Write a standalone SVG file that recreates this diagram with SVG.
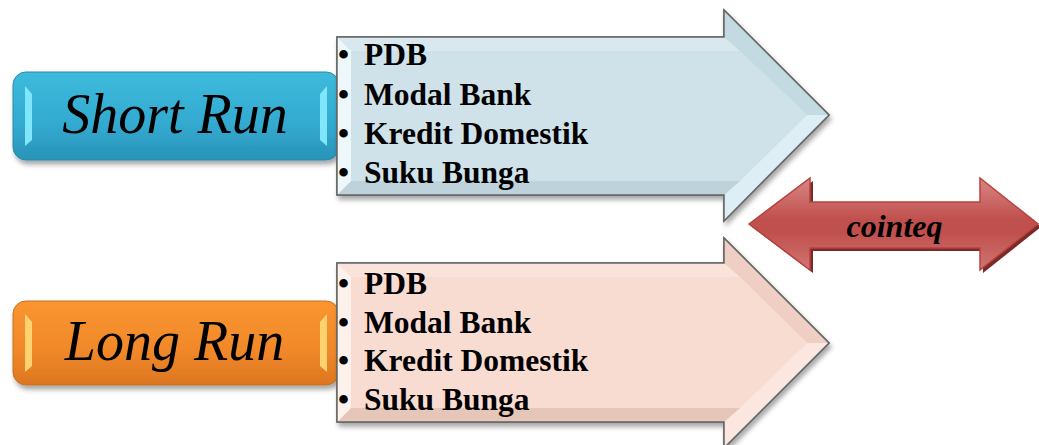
<svg xmlns="http://www.w3.org/2000/svg" width="1039" height="445" viewBox="0 0 1039 445">
<defs>
<style>
.lbl{font-family:"Liberation Serif","Times New Roman",serif;font-style:italic;font-size:56px;fill:#000}
.li{font-family:"Liberation Serif","Times New Roman",serif;font-weight:bold;font-size:31.5px;fill:#000}
.ci{font-family:"Liberation Serif","Times New Roman",serif;font-weight:bold;font-style:italic;font-size:32px;fill:#000}
.outline{stroke:#666;stroke-width:1.5}
</style>
<filter id="sh" x="-10%" y="-10%" width="130%" height="140%">
<feDropShadow dx="2" dy="4" stdDeviation="2.5" flood-color="#000" flood-opacity="0.35"/>
</filter>
<linearGradient id="gBlue" x1="0" y1="0" x2="0" y2="1">
<stop offset="0" stop-color="#3DBADC"/><stop offset="0.6" stop-color="#33AAD0"/><stop offset="1" stop-color="#2A93B8"/>
</linearGradient>
<linearGradient id="gOrange" x1="0" y1="0" x2="0" y2="1">
<stop offset="0" stop-color="#FA9530"/><stop offset="0.6" stop-color="#F0882A"/><stop offset="1" stop-color="#DC7620"/>
</linearGradient>
<linearGradient id="gRed" x1="0" y1="0" x2="0" y2="1">
<stop offset="0" stop-color="#D88683"/><stop offset="0.45" stop-color="#C0504D"/><stop offset="0.6" stop-color="#C0504D"/><stop offset="1" stop-color="#D07672"/>
</linearGradient>
</defs>

<g id="short-run" filter="url(#sh)">
<rect x="13" y="72" width="326" height="88" rx="13" fill="url(#gBlue)" stroke="#2A8AAA" stroke-width="1"/>
<rect x="25" y="146" width="302" height="4" fill="#2C9ABF" opacity="0.6"/>
<polygon points="25,86 32,94 32,140 25,146" fill="#7FE6FB"/>
<polygon points="327,86 320,94 320,140 327,146" fill="#7FE6FB"/>
<text class="lbl" x="175" y="133" text-anchor="middle">Short Run</text>
</g>

<g id="long-run" filter="url(#sh)">
<rect x="13" y="301" width="326" height="84" rx="13" fill="url(#gOrange)" stroke="#C8701E" stroke-width="1"/>
<rect x="25" y="371" width="302" height="4" fill="#E27E22" opacity="0.6"/>
<polygon points="25,314 32,322 32,366 25,372" fill="#FFD270"/>
<polygon points="327,314 320,322 320,366 327,372" fill="#FFD270"/>
<text class="lbl" x="174.5" y="360" text-anchor="middle">Long Run</text>
</g>

<g id="short-list">
<polygon class="outline" filter="url(#sh)" points="337,37 724,37 724,10 829,115 724,221 724,195 337,195" fill="#D0E2E9"/>
<polygon points="337,37 724,37 740,51 351,51" fill="#D8E8EE"/>
<polygon points="724,37 724,10 829,115 807,115 740,51" fill="#C4DAE2"/>
<polygon points="829,115 724,221 724,195 740,181 807,115" fill="#DDEEF4"/>
<polygon points="337,195 351,181 740,181 724,195" fill="#BDD2DA"/>
<polygon points="337,37 351,51 351,181 337,195" fill="#EEF7FA"/>
<polygon points="351,51 740,51 807,115 740,181 351,181" fill="#D0E2E9"/>
<polygon class="outline" points="337,37 724,37 724,10 829,115 724,221 724,195 337,195" fill="none"/>
<text class="li" x="338" y="65">•</text><text class="li" x="364" y="65">PDB</text>
<text class="li" x="338" y="105">•</text><text class="li" x="364" y="105">Modal Bank</text>
<text class="li" x="338" y="144">•</text><text class="li" x="364" y="144">Kredit Domestik</text>
<text class="li" x="338" y="183">•</text><text class="li" x="364" y="183">Suku Bunga</text>
</g>

<g id="long-list">
<polygon class="outline" filter="url(#sh)" points="337,263 724,263 724,238 829,343 724,448 724,422 337,422" fill="#F9DCD1"/>
<polygon points="337,263 724,263 740,277 351,277" fill="#FAE3DA"/>
<polygon points="724,263 724,238 829,343 807,343 740,277" fill="#EFCFC3"/>
<polygon points="829,343 724,448 724,422 740,408 807,343" fill="#FBE7DF"/>
<polygon points="337,422 351,408 740,408 724,422" fill="#E6C6B9"/>
<polygon points="337,263 351,277 351,408 337,422" fill="#FDF1EC"/>
<polygon points="351,277 740,277 807,343 740,408 351,408" fill="#F9DCD1"/>
<polygon class="outline" points="337,263 724,263 724,238 829,343 724,448 724,422 337,422" fill="none"/>
<text class="li" x="338" y="294">•</text><text class="li" x="364" y="294">PDB</text>
<text class="li" x="338" y="333">•</text><text class="li" x="364" y="333">Modal Bank</text>
<text class="li" x="338" y="371">•</text><text class="li" x="364" y="371">Kredit Domestik</text>
<text class="li" x="338" y="410">•</text><text class="li" x="364" y="410">Suku Bunga</text>
</g>

<g id="cointeq">
<polygon points="752,227 813,181 813,205 983,205 983,181 1041,227 983,273 983,251 813,251 813,273" fill="#7A2A27"/>
<polygon points="749,224 810,178 810,202 980,202 980,178 1038,224 980,270 980,248 810,248 810,270" fill="url(#gRed)" stroke="#B8423E" stroke-width="1.5"/>
<text class="ci" x="894.5" y="237" text-anchor="middle">cointeq</text>
</g>

<g id="connectors"></g>
</svg>
